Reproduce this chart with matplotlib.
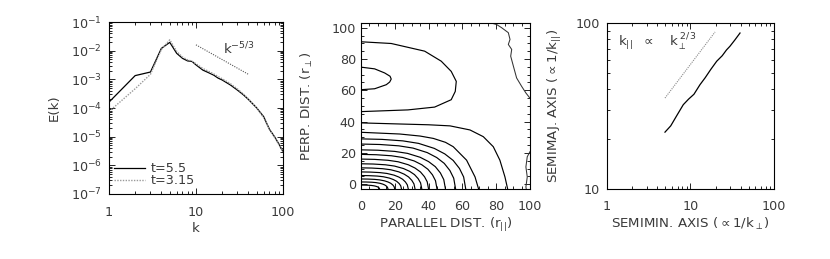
import matplotlib
matplotlib.use('Agg')
import matplotlib.pyplot as plt
from matplotlib import ticker
import numpy as np

# ---- panel 1: energy spectra
k = [1, 2, 3, 4, 5, 6, 7, 8, 9, 10, 12, 14, 16, 18, 20, 25, 30, 35, 40, 50, 60, 70, 80, 90, 100]
E_t55 = [1.6e-4, 1.35e-3, 1.8e-3, 1.2e-2, 1.95e-2, 8.1e-3, 5.4e-3, 4.4e-3, 4.2e-3, 3.2e-3,
         2.1e-3, 1.7e-3, 1.4e-3, 1.1e-3, 9.5e-4, 6.3e-4, 4.2e-4, 2.9e-4, 2.0e-4, 1.0e-4,
         5.0e-5, 1.8e-5, 1.0e-5, 5.5e-6, 3.0e-6]
E_t315 = [7.5e-5, 4.7e-4, 1.5e-3, 1.1e-2, 2.4e-2, 9.5e-3, 6.0e-3, 4.8e-3, 4.3e-3, 3.5e-3,
          2.4e-3, 1.9e-3, 1.55e-3, 1.25e-3, 1.05e-3, 7.0e-4, 4.6e-4, 3.1e-4, 2.1e-4, 1.0e-4,
          4.6e-5, 1.8e-5, 9.5e-6, 5.2e-6, 3.0e-6]
ref_k = [10, 40]
ref_E = [1.6e-2, 1.5e-3]

# ---- panel 2: contour lines (parallel dist, perp dist)
y_bottom = -3
bottom_y0 = [29.0, 25.7, 22.0, 19.1, 16.1, 13.1, 10.5, 7.9, 5.6, 3.4, 1.5, -0.5]
bottom_x0 = [62, 56, 50, 45, 40, 36, 32, 28, 24, 20, 16, 11]
shape_u = [0.0, 0.2, 0.4, 0.55, 0.7, 0.8, 0.88, 0.94, 0.98, 1.0]
shape_v = [1.0, 0.99, 0.96, 0.91, 0.81, 0.70, 0.57, 0.41, 0.24, 0.0]

c_outer1_x = [0, 23, 40, 52.7, 64.5, 72.4, 78.3, 82.2, 85.2, 86.8]
c_outer1_y = [39.2, 38.5, 38.0, 37.3, 34.7, 30.4, 24.0, 15.4, 4.7, -3]
c_outer2_x = [0, 23, 35, 42.8, 50, 54.6, 62.5, 67.5, 69.6]
c_outer2_y = [33.2, 32.1, 30.8, 29.3, 26.8, 24.0, 15.4, 4.7, -3]

loop_big_x = [0, 17.9, 37.7, 47.5, 53.4, 56.4, 55.8, 53.4, 43.6, 27.8, 0]
loop_big_y = [91.0, 89.9, 85.0, 78.6, 72.1, 65.7, 59.3, 54.0, 49.3, 47.5, 46.4]
loop_small_x = [0, 8.1, 14, 17.2, 17.9, 17.0, 15, 8.1, 0]
loop_small_y = [74.8, 73.7, 71.1, 69.0, 67.2, 65.3, 63.6, 61, 60.4]

wig_top_x = [77.0, 80.3, 83.2, 87.2, 88.2, 87.2, 89.2, 88.6, 90.2, 92.1, 95.1, 97.6, 100]
wig_top_y = [103, 102, 100, 96.8, 92.5, 89.3, 86.1, 81.8, 75.4, 67.9, 62.5, 58.3, 55.0]
wig_bot_x = [100, 98.4, 97.6, 98.4, 97.6, 97.8]
wig_bot_y = [20.8, 17.6, 11.1, 4.7, -1.7, -3]

# ---- panel 3: semimajor vs semiminor axis
semimin = [4.95, 5.8, 6.8, 8.2, 9.5, 11, 13, 15, 17.5, 20.6, 24, 27, 29.7, 34, 39.2]
semimaj = [22.0, 24.0, 27.5, 32.2, 34.8, 37.2, 42.5, 46.8, 52.5, 58.8, 63.5, 68.8, 72.4, 79.0, 87.0]
slope_x = [4.95, 19.7]
slope_y = [35.3, 88.3]

plt.rcParams['font.family'] = ['DejaVu Sans']
plt.rcParams['mathtext.fontset'] = 'dejavusans'
plt.rcParams['mathtext.default'] = 'regular'
txt = '#3a3a3a'
fs = 9.6
tfs = 9.2

fig = plt.figure(figsize=(8.3, 2.59), dpi=100)
ax1 = fig.add_axes([0.1313, 0.251, 0.2096, 0.664])
ax2 = fig.add_axes([0.4349, 0.2703, 0.2036, 0.641])
ax3 = fig.add_axes([0.7313, 0.2703, 0.2012, 0.641])


def style(ax, xpad, ypad):
    ax.tick_params(which='both', direction='in', top=True, right=True,
                   colors='black', labelcolor=txt, labelsize=tfs, width=0.6)
    ax.tick_params(which='major', length=4)
    ax.tick_params(which='minor', length=2.2)
    ax.tick_params(axis='x', pad=xpad)
    ax.tick_params(axis='y', pad=ypad)
    for s in ax.spines.values():
        s.set_linewidth(0.8)


def log_ticks(axis):
    axis.set_major_locator(ticker.LogLocator(base=10, numticks=12))
    axis.set_minor_locator(ticker.LogLocator(base=10, subs=np.arange(2, 10), numticks=60))
    axis.set_minor_formatter(ticker.NullFormatter())


plain = ticker.FuncFormatter(lambda v, p: f'{v:g}')

# panel 1
ax1.plot(k, E_t55, color='black', lw=0.9, label='t=5.5')
ax1.plot(k, E_t315, color='#9a9a9a', lw=1.0, ls=(0, (1, 1)), label='t=3.15')
ax1.plot(ref_k, ref_E, color='#555555', lw=0.8, ls=(0, (1, 1.2)))
ax1.text(20.3, 7.2e-3, r'$k^{-5/3}$', fontsize=fs, color=txt, va='baseline')
ax1.set_xscale('log')
ax1.set_yscale('log')
ax1.set_xlim(1, 100)
ax1.set_ylim(1e-7, 1e-1)
log_ticks(ax1.xaxis)
log_ticks(ax1.yaxis)
ax1.xaxis.set_major_formatter(plain)
style(ax1, 8.6, 5)
ax1.set_xlabel('k', fontsize=fs, color=txt)
ax1.set_ylabel('E(k)', fontsize=fs, color=txt)
ax1.xaxis.set_label_coords(0.5, -0.16)
ax1.yaxis.set_label_coords(-0.28, 0.5)
ax1.legend(loc='lower left', bbox_to_anchor=(0.03, 0.04), frameon=False, fontsize=tfs,
           handlelength=2.4, handletextpad=0.45, labelspacing=-0.1, borderpad=0,
           borderaxespad=0, labelcolor=txt)

# panel 2
for y0, x0 in zip(bottom_y0, bottom_x0):
    xs = [x0 * u for u in shape_u]
    ys = [y_bottom + (y0 - y_bottom) * v for v in shape_v]
    ax2.plot(xs, ys, color='black', lw=0.85)
for xs, ys in [(c_outer1_x, c_outer1_y), (c_outer2_x, c_outer2_y),
               (loop_big_x, loop_big_y), (loop_small_x, loop_small_y)]:
    ax2.plot(xs, ys, color='black', lw=0.85)
ax2.plot(wig_top_x, wig_top_y, color='#333333', lw=0.75)
ax2.plot(wig_bot_x, wig_bot_y, color='#333333', lw=0.75)
ax2.set_xlim(0, 100)
ax2.set_ylim(-3, 103)
ax2.xaxis.set_major_locator(ticker.MultipleLocator(20))
ax2.yaxis.set_major_locator(ticker.MultipleLocator(20))
ax2.xaxis.set_minor_locator(ticker.MultipleLocator(5))
ax2.yaxis.set_minor_locator(ticker.MultipleLocator(5))
style(ax2, 7.6, 3.6)
ax2.set_xlabel(r'PARALLEL DIST. (r$_{||}$)', fontsize=fs, color=txt)
ax2.set_ylabel(r'PERP. DIST. (r$_{\perp}$)', fontsize=fs, color=txt)
ax2.xaxis.set_label_coords(0.5, -0.165)
ax2.yaxis.set_label_coords(-0.272, 0.5)

# panel 3
ax3.plot(semimin, semimaj, color='black', lw=0.9)
ax3.plot(slope_x, slope_y, color='#8a8a8a', lw=0.8, ls=(0, (1, 1)))
ax3.text(1.35, 72.7, r'$k_{||}\ \ \propto\ \ \ k_{\perp}^{\ 2/3}$', fontsize=fs, color=txt,
         va='baseline')
ax3.set_xscale('log')
ax3.set_yscale('log')
ax3.set_xlim(1, 100)
ax3.set_ylim(10, 100)
log_ticks(ax3.xaxis)
log_ticks(ax3.yaxis)
ax3.xaxis.set_major_formatter(plain)
ax3.yaxis.set_major_formatter(plain)
style(ax3, 7.6, 5)
ax3.set_xlabel(r'SEMIMIN. AXIS ($\propto$1/k$_{\perp}$)', fontsize=fs, color=txt)
ax3.set_ylabel(r'SEMIMAJ. AXIS ($\propto$1/k$_{||}$)', fontsize=fs, color=txt)
ax3.xaxis.set_label_coords(0.5, -0.165)
ax3.yaxis.set_label_coords(-0.26, 0.5)

fig.savefig('out.png', dpi=100)
